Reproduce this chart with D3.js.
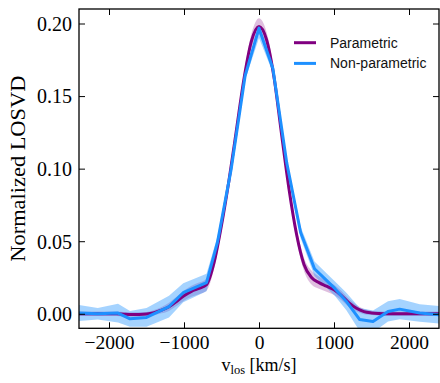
<!DOCTYPE html>
<html>
<head>
<meta charset="utf-8">
<script src="https://cdn.jsdelivr.net/npm/d3@7"></script>
<style>
  html, body { margin: 0; padding: 0; background: #fff; }
  svg { display: block; }
</style>
</head>
<body>
<svg id="chart" width="440" height="383"></svg>
<script>
// ---- data ----
const xTicks = [-2000, -1000, 0, 1000, 2000];
const yTicks = [0.00, 0.05, 0.10, 0.15, 0.20];

// Parametric LOSVD (smooth curve)
const paramV = [-2400,-2300,-2200,-2100,-2000,-1900,-1800,-1700,-1600,-1500,-1400,-1300,-1200,-1100,-1000,-900,-800,-700,-600,-500,-400,-300,-200,-100,0,100,200,300,400,500,600,700,800,900,1000,1100,1200,1300,1400,1500,1600,1700,1800,1900,2000,2100,2200,2300,2400];
const paramVal = [0.0000,0.0000,0.0000,0.0000,0.0000,0.0000,-0.0003,-0.0005,-0.0005,-0.0002,0.0008,0.0025,0.0048,0.0085,0.0125,0.0155,0.0175,0.0200,0.0350,0.0610,0.0920,0.1270,0.1620,0.1880,0.1980,0.1890,0.1630,0.1240,0.0860,0.0550,0.0340,0.0250,0.0215,0.0190,0.0165,0.0125,0.0075,0.0038,0.0015,0.0006,0.0002,0.0000,0.0000,0.0000,0.0000,0.0000,0.0000,0.0000,0.0000];
const paramErr = [0.0015,0.0015,0.0015,0.0015,0.0015,0.0015,0.0015,0.0015,0.0015,0.0015,0.0018,0.0022,0.0028,0.0032,0.0035,0.0038,0.0040,0.0042,0.0042,0.0042,0.0040,0.0040,0.0045,0.0052,0.0056,0.0052,0.0045,0.0040,0.0040,0.0042,0.0045,0.0048,0.0042,0.0038,0.0035,0.0032,0.0028,0.0022,0.0018,0.0015,0.0015,0.0015,0.0015,0.0015,0.0015,0.0015,0.0015,0.0015,0.0015];

// Non-parametric LOSVD (binned, piecewise)
const nonparV = [-2400,-2150,-1880,-1720,-1500,-1200,-1010,-700,-555,-370,-185,0,185,370,555,740,900,1010,1165,1343,1520,1720,1876,2143,2400];
const nonparVal = [0.0005,0.0000,0.0005,-0.0035,-0.0025,0.0050,0.0145,0.0215,0.0490,0.1000,0.1640,0.1968,0.1690,0.1040,0.0560,0.0310,0.0230,0.0175,0.0085,-0.0040,-0.0053,0.0016,0.0032,0.0005,-0.0007];
const nonparLow = [-0.0050,-0.0040,-0.0060,-0.0090,-0.0090,-0.0025,0.0080,0.0155,0.0450,0.0970,0.1610,0.1900,0.1660,0.1010,0.0520,0.0260,0.0180,0.0125,0.0025,-0.0120,-0.0128,-0.0054,-0.0038,-0.0055,-0.0067];
const nonparHigh = [0.0060,0.0040,0.0070,0.0020,0.0040,0.0125,0.0210,0.0275,0.0530,0.1030,0.1670,0.1990,0.1720,0.1070,0.0600,0.0360,0.0280,0.0225,0.0145,0.0040,0.0022,0.0086,0.0102,0.0065,0.0053];

const seriesNames = ["Parametric", "Non-parametric"];
const seriesColors = ["#800080", "#1e90ff"];

// ---- layout ----
const svg = d3.select("#chart");
const L = 79, R = 439, T = 9, B = 328.3;
const x = d3.scaleLinear().domain([-2400, 2400]).range([L, R]);
const y = d3.scaleLinear().domain([-0.01, 0.21]).range([B, T]);

svg.append("defs").append("clipPath").attr("id", "clip")
  .append("rect").attr("x", L).attr("y", T).attr("width", R - L).attr("height", B - T);

const plot = svg.append("g").attr("clip-path", "url(#clip)");

const param = paramV.map((v, i) => ({v, val: paramVal[i], lo: paramVal[i] - paramErr[i], hi: paramVal[i] + paramErr[i]}));
const nonpar = nonparV.map((v, i) => ({v, val: nonparVal[i], lo: nonparLow[i], hi: nonparHigh[i]}));

const areaP = d3.area().x(d => x(d.v)).y0(d => y(d.lo)).y1(d => y(d.hi)).curve(d3.curveMonotoneX);
const lineP = d3.line().x(d => x(d.v)).y(d => y(d.val)).curve(d3.curveMonotoneX);
const areaN = d3.area().x(d => x(d.v)).y0(d => y(d.lo)).y1(d => y(d.hi));
const lineN = d3.line().x(d => x(d.v)).y(d => y(d.val));

plot.append("path").datum(param).attr("d", areaP).attr("fill", seriesColors[0]).attr("fill-opacity", 0.25).attr("stroke", "none");
plot.append("path").datum(nonpar).attr("d", areaN).attr("fill", seriesColors[1]).attr("fill-opacity", 0.4).attr("stroke", "none");
plot.append("path").datum(param).attr("d", lineP).attr("fill", "none").attr("stroke", seriesColors[0]).attr("stroke-width", 3).attr("stroke-linejoin", "round");
plot.append("path").datum(nonpar).attr("d", lineN).attr("fill", "none").attr("stroke", seriesColors[1]).attr("stroke-width", 3).attr("stroke-linejoin", "round");

// ---- axes (inward ticks on all four sides) ----
const tickLen = 6;
const fontSerif = "'Liberation Serif', 'Times New Roman', serif";

const axB = svg.append("g").attr("transform", `translate(0,${B})`)
  .call(d3.axisBottom(x).tickValues(xTicks).tickSizeInner(-tickLen).tickSizeOuter(0).tickPadding(9).tickFormat(d3.format("d")));
const axT = svg.append("g").attr("transform", `translate(0,${T})`)
  .call(d3.axisTop(x).tickValues(xTicks).tickSizeInner(-tickLen).tickSizeOuter(0).tickFormat(""));
const axL = svg.append("g").attr("transform", `translate(${L},0)`)
  .call(d3.axisLeft(y).tickValues(yTicks).tickSizeInner(-tickLen).tickSizeOuter(0).tickPadding(7).tickFormat(d3.format(".2f")));
const axR = svg.append("g").attr("transform", `translate(${R},0)`)
  .call(d3.axisRight(y).tickValues(yTicks).tickSizeInner(-tickLen).tickSizeOuter(0).tickFormat(""));

[axB, axT, axL, axR].forEach(a => {
  a.select(".domain").remove();
  a.selectAll(".tick line").attr("stroke", "#000").attr("stroke-width", 1);
  a.selectAll("text").attr("font-family", fontSerif).attr("font-size", 20).attr("fill", "#000");
});
axB.selectAll("text").attr("dy", null).attr("y", 21.2).attr("font-size", 19.5);
axL.selectAll("text").attr("dy", null).attr("y", 6.8);

// frame
svg.append("rect").attr("x", L).attr("y", T).attr("width", R - L).attr("height", B - T)
  .attr("fill", "none").attr("stroke", "#000").attr("stroke-width", 1.3);

// axis labels
const xl = svg.append("text").attr("x", (L + R) / 2).attr("y", 370.5).attr("text-anchor", "middle")
  .attr("font-family", fontSerif).attr("font-size", 18).attr("fill", "#000");
xl.append("tspan").text("v");
xl.append("tspan").attr("font-size", 12.5).attr("dy", 3).text("los");
xl.append("tspan").attr("dy", -3).text(" [km/s]");

svg.append("text").attr("transform", "rotate(-90)").attr("x", -(T + B) / 2).attr("y", 25)
  .attr("text-anchor", "middle").attr("font-family", fontSerif).attr("font-size", 20)
  .attr("textLength", 186).attr("lengthAdjust", "spacingAndGlyphs").attr("fill", "#000")
  .text("Normalized LOSVD");

// legend
const leg = svg.append("g");
seriesNames.forEach((name, i) => {
  const yy = 42.7 + i * 20.7;
  leg.append("line").attr("x1", 294).attr("x2", 316).attr("y1", yy).attr("y2", yy)
    .attr("stroke", seriesColors[i]).attr("stroke-width", 3);
  leg.append("text").attr("x", 330).attr("y", yy + 5).attr("font-family", "'Liberation Sans', Arial, sans-serif")
    .attr("font-size", 14).attr("fill", "#111").text(name);
});
</script>
</body>
</html>
